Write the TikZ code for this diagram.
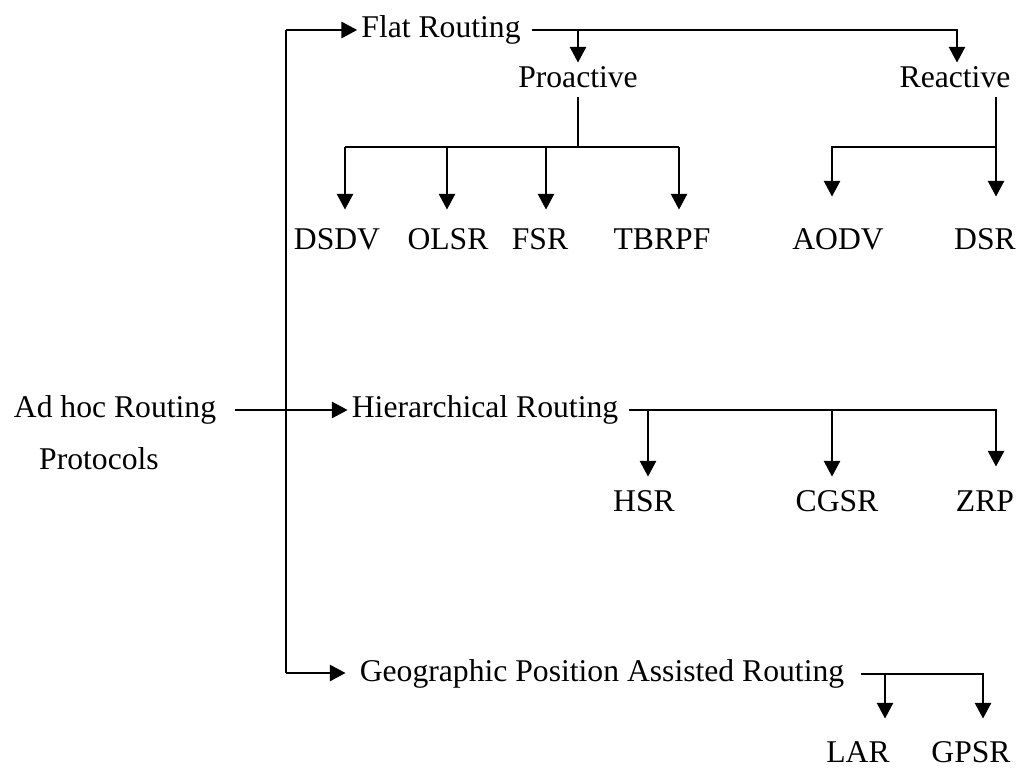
\documentclass[tikz,border=0pt]{standalone}
\usepackage{fontspec}
\setmainfont{Liberation Serif}
\usetikzlibrary{arrows.meta, calc}

\begin{document}
\begin{tikzpicture}[
  x=0.01cm, y=-0.01cm,
  line/.style={black, line width=0.7pt},
  arr/.style={line, -{Triangle[length=4.5pt, width=4.6pt]}},
  label/.style={black, font=\fontsize{9}{11}\selectfont, inner sep=1pt,
    text height=6pt, text depth=1.5pt},
]
\useasboundingbox (0,0) rectangle (1022,767);

% ===== Root =====
\node[label] (adhoc) at (115,410) {Ad hoc Routing};
\node[label] (proto) at (99,462) {Protocols};

% ===== Flat routing =====
\node[label] (flat) at (441,30) {Flat Routing};
\node[label] (pro) at (578,80) {Proactive};
\node[label] (rea) at (955,80) {Reactive};

\node[label] (dsdv) at (337,242) {DSDV};
\node[label] (olsr) at (448,242) {OLSR};
\node[label] (fsr) at (540,242) {FSR};
\node[label] (tbrpf) at (662,242) {TBRPF};
\node[label] (aodv) at (838,242) {AODV};
\node[label] (dsr) at (985,242) {DSR};

% ===== Hierarchical routing =====
\node[label] (hier) at (485,410) {Hierarchical Routing};
\node[label] (hsr) at (644,504) {HSR};
\node[label] (cgsr) at (837,504) {CGSR};
\node[label] (zrp) at (985,504) {ZRP};

% ===== Geographic routing =====
\node[label] (geo) at (602,674) {Geographic Position Assisted Routing};
\node[label] (lar) at (858,755) {LAR};
\node[label] (gpsr) at (971,755) {GPSR};

% Trunk on the left
\coordinate (tt) at (286,30);
\coordinate (tb) at (286,673);
\draw[line] (tt) -- (tb);
\draw[arr] (tt) -- (flat.west |- tt);
\draw[arr] (tb) -- ([xshift=-0.1cm]geo.west |- tb);
\draw[arr] ([xshift=0.15cm]adhoc.east) -- (hier.west);

% Flat routing branches
\coordinate (fb) at (957,30);
\draw[arr] ([xshift=0.07cm]flat.east) -| (rea.north -| fb);
\draw[arr] (flat.east -| pro) -- (pro.north);

% Proactive protocols
\coordinate (pb) at (578,147);
\coordinate (pb1) at (345,147);
\coordinate (pb2) at (447,147);
\coordinate (pb3) at (546,147);
\coordinate (pb4) at (679,147);
\draw[line] (pro.south) -- (pb);
\draw[line] (pb1) -- (pb4);
\foreach \c/\n in {pb1/dsdv, pb2/olsr, pb3/fsr, pb4/tbrpf}
  \draw[arr] (\c) -- ([yshift=0.15cm]\n.north -| \c);

% Reactive protocols
\coordinate (rb1) at (832,147);
\coordinate (rb2) at (996,147);
\draw[arr] (rea.south -| rb2) -- ([yshift=0.28cm]dsr.north -| rb2);
\draw[arr] (rb2) -| ([yshift=0.28cm]aodv.north -| rb1);

% Hierarchical protocols
\coordinate (hb1) at (648,410);
\coordinate (hb2) at (832,410);
\coordinate (hb3) at (996,410);
\draw[arr] ([xshift=0.07cm]hier.east) -| ([yshift=0.2cm]zrp.north -| hb3);
\draw[arr] (hb1) -- ([yshift=0.1cm]hsr.north -| hb1);
\draw[arr] (hb2) -- ([yshift=0.1cm]cgsr.north -| hb2);

% Geographic protocols
\coordinate (gb1) at (885,674);
\coordinate (gb2) at (983,674);
\draw[arr] ([xshift=0.13cm]geo.east) -| ([yshift=0.19cm]gpsr.north -| gb2);
\draw[arr] (gb1) -- ([yshift=0.19cm]lar.north -| gb1);

\end{tikzpicture}
\end{document}
